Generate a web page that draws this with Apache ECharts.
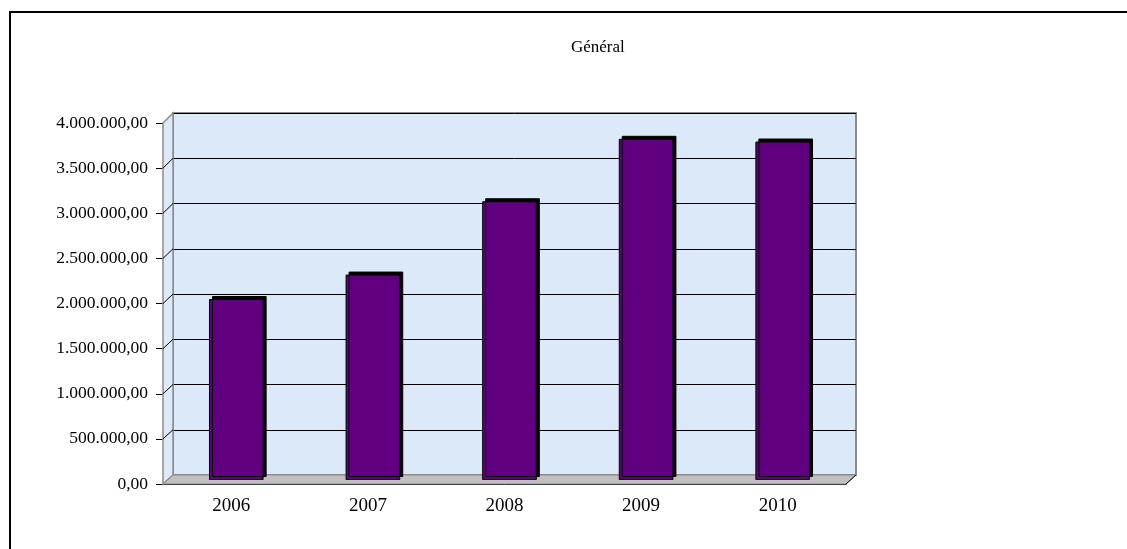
<!DOCTYPE html>
<html>
<head>
<meta charset="utf-8">
<script src="https://cdn.jsdelivr.net/npm/echarts@6/dist/echarts.min.js"></script>
<style>
html, body { margin: 0; padding: 0; background: #fff; }
#main { width: 1127px; height: 549px; }
</style>
</head>
<body>
<div id="main"></div>
<script>
// données
var annees = ['2006', '2007', '2008', '2009', '2010'];
var montants = [2000000, 2270000, 3080000, 3770000, 3740000];
var yTicks = [0, 500000, 1000000, 1500000, 2000000, 2500000, 3000000, 3500000, 4000000];

var yMax = 4000000, yStep = 500000;
var police = 'Liberation Serif';
var mur = '#dce9f8';

function fmt(v) {
  var s = Math.round(v).toString();
  s = s.replace(/\B(?=(\d{3})+(?!\d))/g, '.');
  return s + ',00';
}

(function () {
  var dom = document.getElementById('main');
  var myChart = echarts.init(dom);

  // back wall / bars (mid depth) / front axes
  var gBack = { left: 173, top: 113, width: 683, height: 362 };
  var gMid = { left: 168, top: 118, width: 683, height: 362 };
  var gFront = { left: 163, top: 123, width: 683, height: 361 };

  var option = {
    animation: false,
    title: {
      text: 'Général',
      left: 566,
      top: 34,
      textStyle: { fontFamily: police, fontSize: 17, fontWeight: 'normal', color: '#000' }
    },
    grid: [
      { left: gBack.left, top: gBack.top, width: gBack.width, height: gBack.height,
        show: true, backgroundColor: mur, borderColor: '#8c8c8c', borderWidth: 2 },
      { left: gMid.left, top: gMid.top, width: gMid.width, height: gMid.height },
      { left: gFront.left, top: gFront.top, width: gFront.width, height: gFront.height }
    ],
    xAxis: [
      { type: 'category', gridIndex: 0, data: annees, show: false },
      { type: 'category', gridIndex: 1, data: annees, show: false },
      {
        type: 'category', gridIndex: 2, data: annees,
        axisLine: { lineStyle: { color: '#000', width: 1 } },
        axisTick: { length: 7, lineStyle: { color: '#000' } },
        axisLabel: { margin: 13, fontFamily: police, fontSize: 19, color: '#000' }
      }
    ],
    yAxis: [
      {
        type: 'value', gridIndex: 0, min: 0, max: yMax, interval: yStep,
        axisLine: { show: false }, axisTick: { show: false }, axisLabel: { show: false },
        splitLine: { lineStyle: { color: '#000', width: 1 } }
      },
      { type: 'value', gridIndex: 1, min: 0, max: yMax, interval: yStep, show: false },
      {
        type: 'value', gridIndex: 2, min: 0, max: yMax, interval: yStep,
        axisLine: { show: true, lineStyle: { color: '#000', width: 1 } },
        axisTick: { show: true, length: 7, lineStyle: { color: '#000' } },
        splitLine: { show: false },
        axisLabel: { margin: 15, fontFamily: police, fontSize: 17.5, color: '#000', formatter: fmt }
      }
    ],
    series: [
      {
        name: 'Général',
        type: 'bar',
        xAxisIndex: 1,
        yAxisIndex: 1,
        barWidth: '40%',
        z: 3,
        itemStyle: {
          color: '#600080',
          borderColor: '#000',
          borderWidth: 1,
          shadowColor: '#000',
          shadowBlur: 0,
          shadowOffsetX: 3,
          shadowOffsetY: -3
        },
        data: montants
      }
    ]
  };
  myChart.setOption(option, true);

  // side wall, floor, outer frame
  var dx = gBack.left - gFront.left;
  var fb = gFront.top + gFront.height;
  var bb = gBack.top + gBack.height;
  var els = [
    { type: 'rect', z: 0, shape: { x: 10, y: 12, width: 1300, height: 700 },
      style: { fill: null, stroke: '#000', lineWidth: 2 } },
    { type: 'polygon', z: 1,
      shape: { points: [[gFront.left, gFront.top], [gBack.left, gBack.top], [gBack.left, bb], [gFront.left, fb]] },
      style: { fill: mur, stroke: '#8c8c8c', lineWidth: 1.5 } },
    { type: 'polygon', z: 1,
      shape: { points: [[gFront.left, fb], [gFront.left + gFront.width, fb], [gBack.left + gBack.width, bb], [gBack.left, bb]] },
      style: { fill: '#c0c0c0', stroke: '#8c8c8c', lineWidth: 1 } },
    { type: 'line', z: 2,
      shape: { x1: gFront.left + gFront.width, y1: fb, x2: gBack.left + gBack.width, y2: bb },
      style: { stroke: '#000', lineWidth: 1 } }
  ];
  yTicks.forEach(function (v) {
    var yf = myChart.convertToPixel({ yAxisIndex: 2 }, v);
    var yb = myChart.convertToPixel({ yAxisIndex: 0 }, v);
    els.push({ type: 'line', z: 2,
      shape: { x1: gFront.left, y1: yf, x2: gFront.left + dx, y2: yb },
      style: { stroke: v === 0 || v === yMax ? '#8c8c8c' : '#000', lineWidth: 1 } });
  });
  myChart.setOption({ graphic: { elements: els } });
})();
</script>
</body>
</html>
